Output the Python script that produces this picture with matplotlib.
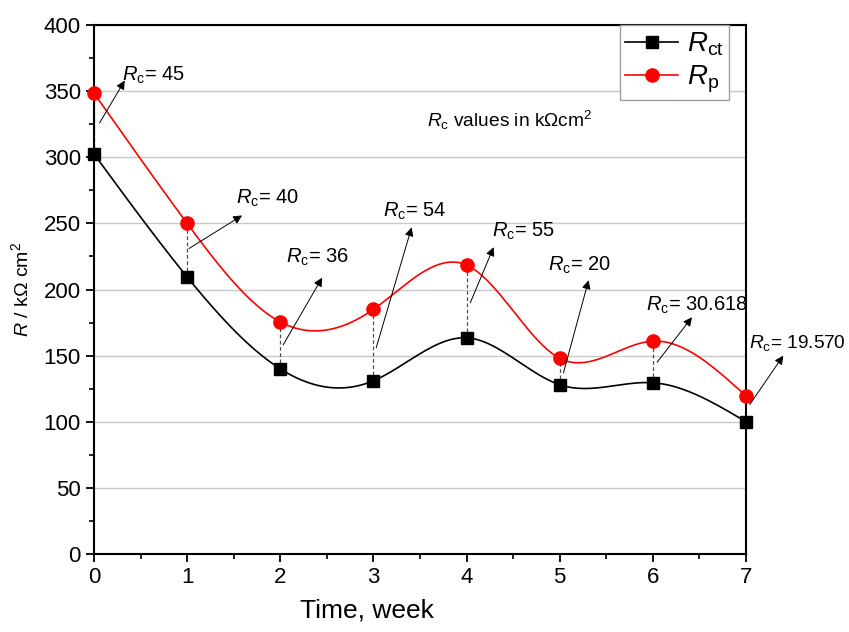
import numpy as np
import matplotlib
matplotlib.use('Agg')
import matplotlib.pyplot as plt
from matplotlib.lines import Line2D

plt.rcParams['font.family'] = ['Liberation Sans', 'DejaVu Sans']
plt.rcParams['mathtext.fontset'] = 'custom'
plt.rcParams['mathtext.rm'] = 'Liberation Sans'
plt.rcParams['mathtext.it'] = 'Liberation Sans:italic'

# data
weeks = [0, 1, 2, 3, 4, 5, 6, 7]
r_ct = [302.5, 209.5, 140, 131, 163.5, 128, 129.5, 100]
r_p = [348.5, 250, 175.5, 185, 218.5, 148, 161, 119.5]
rc_values = ['45', '40', '36', '54', '55', '20', '30.618', '19.570']

# annotation layout (arrow tail, arrow head, text position)
tail_dx = [0.06, 0.02, 0.03, 0.03, 0.04, 0.04, 0.045, 0.04]
tail_y = [326, 231, 158, 156, 190, 137, 145, 113]
head_xy = [(0.33, 358), (1.59, 256), (2.45, 209), (3.41, 247),
           (4.29, 232), (5.31, 207), (6.42, 179), (7.40, 150)]
text_xy = [(0.30, 358), (1.525, 265), (2.06, 220), (3.10, 255),
           (4.27, 240), (4.87, 214), (5.93, 184), (7.03, 156)]
text_size = [14.5, 14.5, 14.5, 14.5, 14.5, 14.5, 14.5, 13.8]


def natural_spline(x, y, n=300):
    # natural cubic spline through the points (like Origin's spline connect)
    x = np.asarray(x, float)
    y = np.asarray(y, float)
    k = len(x)
    h = np.diff(x)
    A = np.zeros((k, k))
    b = np.zeros(k)
    A[0, 0] = 1
    A[-1, -1] = 1
    for i in range(1, k - 1):
        A[i, i - 1] = h[i - 1]
        A[i, i] = 2 * (h[i - 1] + h[i])
        A[i, i + 1] = h[i]
        b[i] = 6 * ((y[i + 1] - y[i]) / h[i] - (y[i] - y[i - 1]) / h[i - 1])
    M = np.linalg.solve(A, b)
    xs = np.linspace(x[0], x[-1], n)
    idx = np.clip(np.searchsorted(x, xs) - 1, 0, k - 2)
    x0, x1 = x[idx], x[idx + 1]
    hh = x1 - x0
    t0, t1 = x1 - xs, xs - x0
    ys = (M[idx] * t0**3 + M[idx + 1] * t1**3) / (6 * hh) \
        + (y[idx] / hh - M[idx] * hh / 6) * t0 \
        + (y[idx + 1] / hh - M[idx + 1] * hh / 6) * t1
    return xs, ys


fig = plt.figure(figsize=(8.49, 6.32), dpi=100)
ax = fig.add_axes([0.1107, 0.1234, 0.768, 0.837])

xs, ys = natural_spline(weeks, r_ct)
ax.plot(xs, ys, color='black', lw=1.2, zorder=3)
xs, ys = natural_spline(weeks, r_p)
ax.plot(xs, ys, color='red', lw=1.2, zorder=3)

ax.vlines(weeks, r_ct, r_p, colors='#505050', linestyles=(0, (3, 2)), lw=0.9, zorder=2)

ax.plot(weeks, r_ct, 's', color='black', ms=8.5, zorder=4, clip_on=False)
ax.plot(weeks, r_p, 'o', color='red', ms=9.5, zorder=4, clip_on=False)

for i in range(len(weeks)):
    ax.annotate('', xy=head_xy[i], xytext=(weeks[i] + tail_dx[i], tail_y[i]),
                arrowprops=dict(arrowstyle='-|>', color='black', lw=0.7,
                                mutation_scale=13, shrinkA=0, shrinkB=0),
                annotation_clip=False, zorder=5)
    ax.text(text_xy[i][0], text_xy[i][1], r'$R_{\rm c}$= ' + rc_values[i],
            fontsize=text_size[i], ha='left', va='baseline', zorder=5)

ax.text(3.575, 323, r'$R_{\rm c}$ values in kΩcm$^2$', fontsize=13.8,
        ha='left', va='baseline')

ax.set_xlim(0, 7)
ax.set_ylim(0, 400)
ax.set_xticks(range(8))
ax.set_xticks(np.arange(0.5, 7, 1), minor=True)
ax.set_yticks(range(0, 401, 50))
ax.set_yticks(range(25, 400, 50), minor=True)
ax.yaxis.grid(True, color='#c8c8c8', lw=1)
ax.set_axisbelow(True)

for s in ax.spines.values():
    s.set_linewidth(1.5)
ax.tick_params(which='major', length=6, width=1.3, direction='out')
ax.tick_params(which='minor', length=3.5, width=1.2, direction='out')
ax.tick_params(axis='y', labelsize=16)
ax.tick_params(axis='x', labelsize=16)

ax.set_xlabel('Time, week', fontsize=19)
ax.xaxis.set_label_coords(0.419, -0.085)
ax.set_ylabel(r'$R$ / kΩ cm$^2$', fontsize=14, labelpad=8)

handles = [Line2D([], [], color='black', marker='s', ms=8.5, lw=1.2),
           Line2D([], [], color='red', marker='o', ms=9.5, lw=1.2)]
leg = ax.legend(handles, [r'$R_{\rm ct}$', r'$R_{\rm p}$'], loc='upper right',
                bbox_to_anchor=(0.974, 1.0), borderaxespad=0, fontsize=20,
                fancybox=False, framealpha=1, edgecolor='#a0a0a0',
                handlelength=1.9, labelspacing=0.2, borderpad=0.2,
                handletextpad=0.3)
leg.get_frame().set_linewidth(1.0)

fig.savefig('out.png', dpi=100)
